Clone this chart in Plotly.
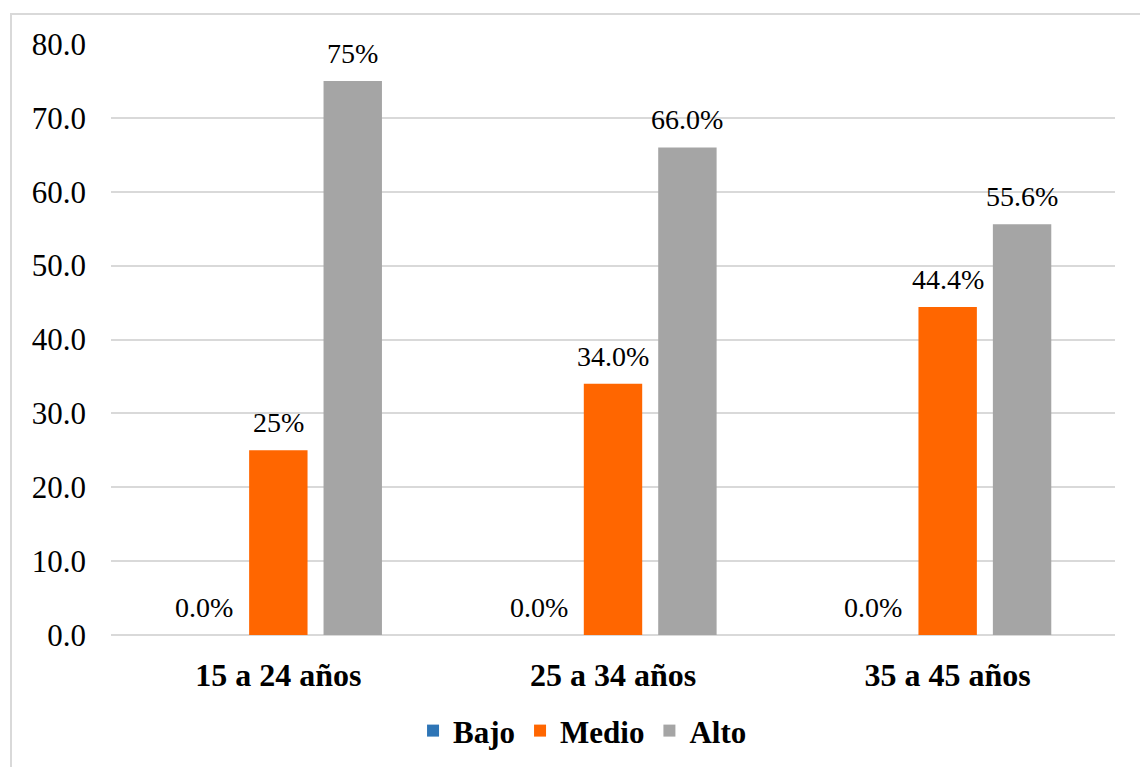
import plotly.graph_objects as go

# Age groups and level percentages
categorias = ["15 a 24 años", "25 a 34 años", "35 a 45 años"]
series = ["Bajo", "Medio", "Alto"]
bajo = [0.0, 0.0, 0.0]
medio = [25.0, 34.0, 44.4]
alto = [75.0, 66.0, 55.6]
etiquetas_bajo = ["0.0%", "0.0%", "0.0%"]
etiquetas_medio = ["25%", "34.0%", "44.4%"]
etiquetas_alto = ["75%", "66.0%", "55.6%"]
y_ticks = [0, 10, 20, 30, 40, 50, 60, 70, 80]

colores = {"Bajo": "#2E75B6", "Medio": "#FF6600", "Alto": "#A5A5A5"}
FONT = "Liberation Serif, Times New Roman, serif"

W, H = 1140, 767
ML, MR, MT, MB = 111, 25, 44, 132
BARGAP = 0.333
BARGROUPGAP = 0.215

valores = {"Bajo": bajo, "Medio": medio, "Alto": alto}
etiquetas = {"Bajo": etiquetas_bajo, "Medio": etiquetas_medio, "Alto": etiquetas_alto}

fig = go.Figure()
for nombre in series:
    fig.add_trace(go.Bar(
        name=nombre,
        x=categorias,
        y=valores[nombre],
        marker=dict(color=colores[nombre], line=dict(width=0)),
    ))

# Data labels placed above each bar, offset to the bar's slot in the group
plot_w = W - ML - MR
slot = plot_w / len(categorias) * (1 - BARGAP) / len(series)
for i, nombre in enumerate(series):
    for cat, val, txt in zip(categorias, valores[nombre], etiquetas[nombre]):
        fig.add_annotation(
            x=cat, y=val, xref="x", yref="y",
            text=txt, showarrow=False,
            xanchor="center", yanchor="bottom",
            xshift=(i - 1) * slot, yshift=10,
            font=dict(family=FONT, size=28, color="#000000"),
        )

plot_h = H - MT - MB
# Light frame around the chart area
fig.add_shape(
    type="rect", xref="paper", yref="paper",
    x0=(11 - ML) / plot_w, x1=(W + 10 - ML) / plot_w,
    y0=-(H + 10 - MT - plot_h) / plot_h, y1=1 + (MT - 14) / plot_h,
    line=dict(color="#D9D9D9", width=2), fillcolor="rgba(0,0,0,0)",
    layer="below",
)

fig.update_layout(
    width=W, height=H,
    margin=dict(l=ML, r=MR, t=MT, b=MB, pad=0, autoexpand=False),
    paper_bgcolor="white", plot_bgcolor="white",
    barmode="group", bargap=BARGAP, bargroupgap=BARGROUPGAP,
    font=dict(family=FONT, size=28, color="#000000"),
    showlegend=True,
    legend=dict(
        orientation="h", xref="container", yref="container",
        x=0.511, xanchor="center", y=0.047, yanchor="middle",
        font=dict(family=FONT, size=31, color="#000000", weight="bold"),
        itemwidth=30, tracegroupgap=0,
    ),
    xaxis=dict(
        showline=False, ticks="", showgrid=False, automargin=False,
        tickfont=dict(family=FONT, size=32, color="#000000", weight="bold"),
        ticklabelstandoff=18,
    ),
    yaxis=dict(
        range=[0, 80], tickvals=y_ticks, tickformat=".1f", automargin=False,
        showgrid=True, gridcolor="#D9D9D9", gridwidth=2,
        zeroline=True, zerolinecolor="#D9D9D9", zerolinewidth=2,
        showline=False, ticks="",
        tickfont=dict(family=FONT, size=31, color="#000000"),
        ticklabelstandoff=24,
    ),
)

fig.write_html("out.html")
